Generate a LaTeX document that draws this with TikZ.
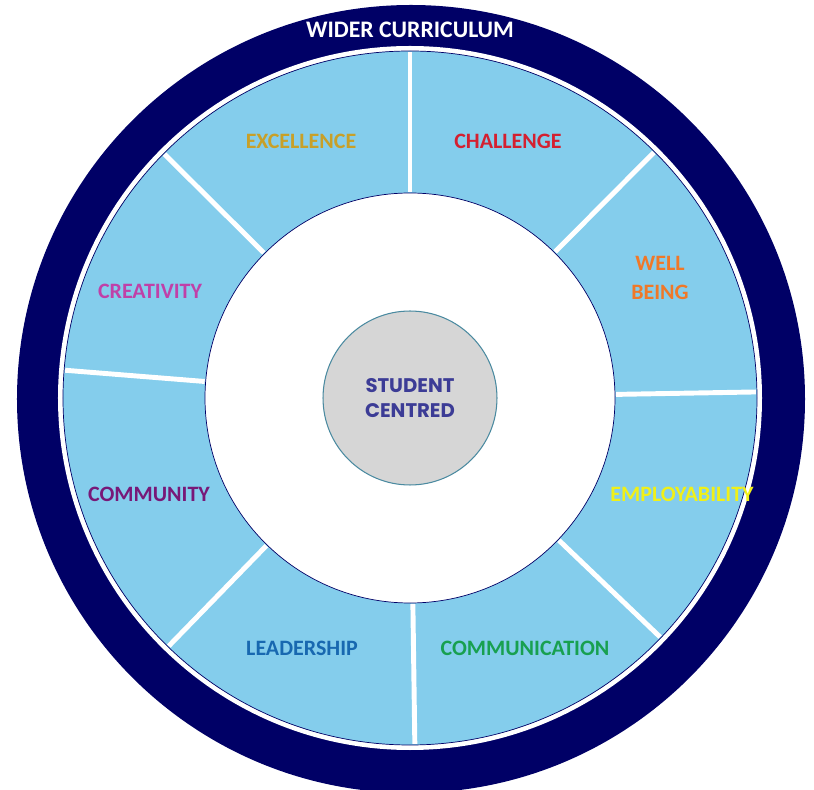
\documentclass[tikz,border=0pt]{standalone}
\usepackage{fontspec}
\setmainfont{Carlito}
\newfontfamily\hubfont{Poppins}
\definecolor{navyring}{HTML}{000066}
\definecolor{skyseg}{HTML}{84CDEC}
\definecolor{hubgrey}{HTML}{D6D6D6}
\definecolor{hubedge}{HTML}{4A8AA0}
\definecolor{hubtext}{HTML}{3C3C96}
\definecolor{excellencec}{HTML}{C8A028}
\definecolor{challengec}{HTML}{D42030}
\definecolor{wellbeingc}{HTML}{F07828}
\definecolor{employc}{HTML}{F0F018}
\definecolor{commsc}{HTML}{18A050}
\definecolor{leadc}{HTML}{1868B0}
\definecolor{communityc}{HTML}{781878}
\definecolor{creativec}{HTML}{C040A8}
\begin{document}
\begin{tikzpicture}[
    x=0.02cm, y=0.02cm,
    valuetext/.style={text=#1, font=\bfseries\fontsize{12.5}{16}\selectfont, align=center},
    divider/.style={white, line width=2.8pt},
    hub/.style={circle, fill=hubgrey, draw=hubedge, line width=0.6pt, minimum size=3.48cm, inner sep=0pt,
        text=hubtext, font=\hubfont\bfseries\fontsize{11.2}{14.5}\selectfont, align=center}
]
    \useasboundingbox (-410,-392) rectangle (404,398);

    % rings
    \fill[navyring] (1,-1) circle (394);
    \fill[white] (0,0) circle (352);
    \filldraw[fill=skyseg, draw=navyring, line width=0.4pt] (0,0) circle (347);
    \filldraw[fill=white, draw=navyring, line width=0.4pt] (0,0) circle (205);

    % dividers between the values
    \foreach \a in {90, 45.2, 1, -43.7, -89.2, 225.8, 175.4, 135.2}
        \draw[divider] (\a:206) -- (\a:346);

    \node[hub] (centre) at (0,0) {STUDENT\\CENTRED};

    \node[valuetext=white, font=\bfseries\fontsize{13.5}{16}\selectfont] (wider) at (0,368) {WIDER CURRICULUM};
    \node[valuetext=excellencec] (excellence) at (-109,257) {EXCELLENCE};
    \node[valuetext=challengec] (challenge) at (98,257) {CHALLENGE};
    \node[valuetext=wellbeingc] (wellbeing) at (250,120) {WELL\\BEING};
    \node[valuetext=employc] (employ) at (272,-96) {EMPLOYABILITY};
    \node[valuetext=commsc] (comms) at (115,-250) {COMMUNICATION};
    \node[valuetext=leadc] (lead) at (-108,-250) {LEADERSHIP};
    \node[valuetext=communityc] (community) at (-261,-96) {COMMUNITY};
    \node[valuetext=creativec] (creative) at (-260,107) {CREATIVITY};
\end{tikzpicture}
\end{document}
